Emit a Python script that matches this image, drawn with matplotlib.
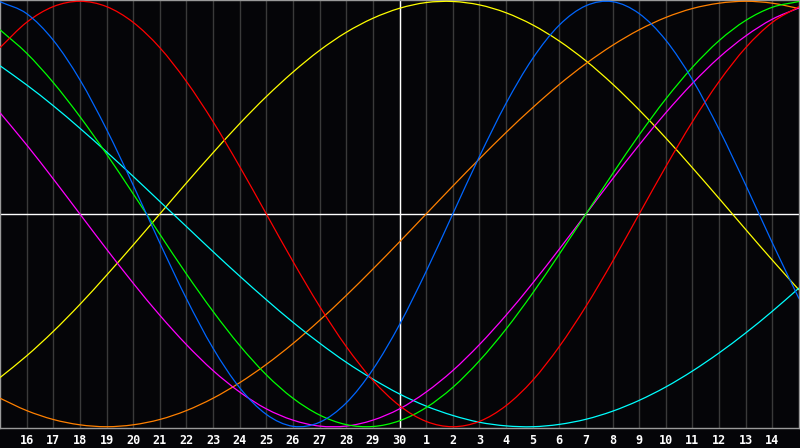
import numpy as np
from matplotlib import pyplot as plt
from matplotlib.path import Path
from matplotlib.patches import PathPatch

# day labels along the bottom (index 1..29), index 15 is "today"
days = [16, 17, 18, 19, 20, 21, 22, 23, 24, 25, 26, 27, 28, 29, 30,
        1, 2, 3, 4, 5, 6, 7, 8, 9, 10, 11, 12, 13, 14]

# daily values, index 0..30
physical = [0.998, 0.942, 0.817, 0.631, 0.398, 0.136, -0.136, -0.398, -0.631, -0.817,
            -0.942, -0.998, -0.979, -0.888, -0.731, -0.520, -0.270, 0.000, 0.270, 0.520,
            0.731, 0.888, 0.979, 0.998, 0.942, 0.817, 0.631, 0.398, 0.136, -0.136, -0.398]
emotional = [0.782, 0.901, 0.975, 1.000, 0.975, 0.901, 0.782, 0.623, 0.434, 0.223,
             0.000, -0.223, -0.434, -0.623, -0.782, -0.901, -0.975, -1.000, -0.975, -0.901,
             -0.782, -0.623, -0.434, -0.223, 0.000, 0.223, 0.434, 0.623, 0.782, 0.901, 0.975]
intellectual = [0.866, 0.756, 0.618, 0.458, 0.282, 0.095, -0.095, -0.282, -0.458, -0.618,
                -0.756, -0.866, -0.945, -0.990, -0.999, -0.972, -0.910, -0.815, -0.690, -0.541,
                -0.372, -0.189, 0.000, 0.189, 0.372, 0.541, 0.690, 0.815, 0.910, 0.972, 0.999]
intuitive = [0.476, 0.325, 0.165, 0.000, -0.165, -0.325, -0.476, -0.614, -0.736, -0.837,
             -0.916, -0.969, -0.997, -0.997, -0.969, -0.916, -0.837, -0.736, -0.614, -0.476,
             -0.325, -0.165, 0.000, 0.165, 0.325, 0.476, 0.614, 0.736, 0.837, 0.916, 0.969]
aesthetic = [-0.769, -0.667, -0.552, -0.425, -0.288, -0.146, 0.000, 0.146, 0.288, 0.425,
             0.552, 0.667, 0.769, 0.854, 0.920, 0.967, 0.994, 0.999, 0.983, 0.946,
             0.889, 0.813, 0.720, 0.611, 0.489, 0.357, 0.217, 0.073, -0.073, -0.217, -0.357]
awareness = [-0.866, -0.924, -0.966, -0.991, -1.000, -0.991, -0.966, -0.924, -0.866, -0.793,
             -0.707, -0.609, -0.500, -0.383, -0.259, -0.131, 0.000, 0.131, 0.259, 0.383,
             0.500, 0.609, 0.707, 0.793, 0.866, 0.924, 0.966, 0.991, 1.000, 0.991, 0.966]
spiritual = [0.697, 0.607, 0.509, 0.403, 0.292, 0.177, 0.059, -0.059, -0.177, -0.292,
             -0.403, -0.509, -0.607, -0.697, -0.776, -0.846, -0.903, -0.947, -0.979, -0.996,
             -1.000, -0.989, -0.965, -0.927, -0.876, -0.813, -0.738, -0.653, -0.559, -0.457, -0.348]

series = [(aesthetic, '#ffff00'), (awareness, '#ff8000'), (spiritual, '#00ffff'),
          (intuitive, '#ff00ff'), (intellectual, '#00ff00'), (emotional, '#ff0000'),
          (physical, '#0066ff')]


def smooth_path(xs, ys):
    # catmull-rom through the daily points, drawn as cubic bezier segments
    p = np.column_stack([xs, ys]).astype(float)
    ext = np.vstack([2 * p[0] - p[1], p, 2 * p[-1] - p[-2]])
    verts = [p[0]]
    codes = [Path.MOVETO]
    for k in range(len(p) - 1):
        a, b, c, d = ext[k], ext[k + 1], ext[k + 2], ext[k + 3]
        verts += [b + (c - a) / 6, c - (d - b) / 6, c]
        codes += [Path.CURVE4] * 3
    return Path(verts, codes)


fig = plt.figure(figsize=(8, 4.48), dpi=100, facecolor='#050508')
ax = fig.add_axes([0, 20 / 448, 799 / 800, 428 / 448])
ax.set_facecolor('#050508')

for i in range(1, 30):
    ax.axvline(i, color='#3a3a3a', lw=1.0, zorder=1)
ax.axvline(15, color='white', lw=1.0, zorder=2)
ax.axhline(0, color='white', lw=1.0, zorder=2)

x = np.arange(31)
for vals, col in series:
    ax.add_patch(PathPatch(smooth_path(x, vals), facecolor='none', edgecolor=col,
                           lw=0.9, zorder=3))

ax.set_xlim(0, 30)
ax.set_ylim(-1.006, 1.006)
ax.set_yticks([])
ax.set_xticks(range(1, 30))
ax.set_xticklabels([str(d) for d in days], color='white', fontsize=8.5,
                   fontfamily='DejaVu Sans Mono', fontweight='bold')
ax.tick_params(axis='x', length=0, pad=4)
for s in ax.spines.values():
    s.set_color('#9a9a9a')
    s.set_linewidth(1.0)

fig.savefig('out.png', dpi=100, facecolor='#050508')
